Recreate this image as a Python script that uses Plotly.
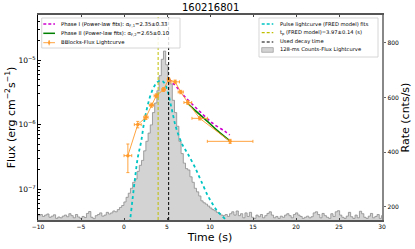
import numpy as np
import plotly.graph_objects as go

# ---------------- data ----------------
TITLE = "160216801"

# 256-ms binned counts lightcurve, starting at t=-10 s
BIN_START = -10.0
BIN_WIDTH = 0.256
rate = [
    168, 172, 165, 170, 174, 162, 166, 171, 158, 163,
    160, 166, 170, 164, 175, 168, 160, 172, 163, 158,
    165, 161, 176, 183, 162, 157, 168, 172, 178, 166,
    170, 180, 174, 178, 185,
    182, 190, 198, 205, 218,
    235, 250, 268, 290, 302, 330, 352, 370, 405, 440,
    470, 500, 545, 580, 625, 680, 740, 770, 720, 668,
    650, 590, 545, 495, 440, 395, 360, 340, 335, 310,
    290, 268, 255, 240, 222, 215, 210, 203, 196, 190,
    186, 180, 176, 170, 168, 172,
    165, 175, 182, 170, 185, 168, 175, 160, 178, 165,
    180, 162, 158, 170, 164, 172, 160, 168, 176, 182,
    170, 160, 165, 158, 166, 162, 170, 175, 168, 160,
    172, 178, 170, 165, 158, 162, 166, 160, 164, 178,
    182, 172, 160, 176, 168, 162, 158, 175, 165, 182,
    186, 170, 162, 158, 166, 180, 164, 158, 170, 160,
    184, 175, 162, 158, 166, 176, 160, 165, 172, 158, 168,
]

# BBlocks flux lightcurve
bb_t = [0.45, 1.6, 2.55, 3.2, 3.75, 4.6, 5.19, 5.95, 6.6, 7.42, 8.8, 12.34]
bb_terr = [0.45, 0.4, 0.25, 0.25, 0.25, 0.2, 0.15, 0.5, 0.3, 0.45, 0.9, 2.65]
bb_flux = [3.3e-7, 1.0e-6, 1.3e-6, 2.0e-6, 2.8e-6, 3.5e-6, 5.0e-6, 4.6e-6, 3.2e-6, 2.2e-6, 1.25e-6, 5.5e-7]
bb_ferr_hi = [1.7e-7, 1.2e-7, 1.0e-7, 1.5e-7, 2.0e-7, 2.5e-7, 3.5e-7, 3.0e-7, 2.0e-7, 1.5e-7, 8e-8, 4e-8]
bb_ferr_lo = [1.5e-7, 1.1e-7, 1.0e-7, 1.4e-7, 1.9e-7, 2.4e-7, 3.3e-7, 2.8e-7, 1.9e-7, 1.4e-7, 7e-8, 4e-8]

# Phase I power-law fit (magenta)
p1_t = [5.2, 6.4, 6.8, 8.6, 10.3, 11.7, 12.3]
p1_flux = [5.13e-6, 3.47e-6, 2.95e-6, 1.70e-6, 1.05e-6, 7.9e-7, 6.9e-7]

# Phase II power-law fit (green)
p2_t = [7.25, 8.4, 9.6, 10.9, 12.34]
p2_flux = [2.24e-6, 1.60e-6, 1.15e-6, 8.0e-7, 5.55e-7]

# FRED pulse fit (on rate axis)
fred_t = [0.55, 0.72, 1.0, 1.3, 1.6, 2.0, 2.4, 3.1, 3.7, 4.1, 4.5, 4.9, 5.5, 6.05,
          6.8, 7.4, 8.2, 9.0, 9.9, 10.9, 11.9, 12.3]
fred_rate = [120, 155, 230, 310, 380, 440, 520, 610, 650, 661, 660, 640, 565, 490,
             427, 395, 348, 292, 232, 183, 152, 140]

t_peak = 3.97
t_decay = 5.19

# ---------------- style ----------------
FONT = "DejaVu Sans"
C_ORANGE = "#ff9a2a"
C_MAG = "#d000d0"
C_GREEN = "#008000"
C_CYAN = "#00c4c4"
C_YEL = "#bfbf00"
C_HIST_FILL = "#d3d3d3"
C_HIST_LINE = "#8c8c8c"

fig = go.Figure()

# histogram (rate axis, drawn first => below)
edges = BIN_START + BIN_WIDTH * np.arange(len(rate) + 1)
fig.add_trace(go.Scatter(
    x=edges, y=list(rate) + [rate[-1]], mode="lines", line_shape="hv",
    line=dict(color=C_HIST_LINE, width=0.8), fill="tozeroy", fillcolor=C_HIST_FILL,
    yaxis="y", showlegend=False, hoverinfo="skip"))

fig.add_trace(go.Scatter(
    x=fred_t, y=fred_rate, mode="lines", line_shape="spline",
    line=dict(color=C_CYAN, width=1.8, dash="3px,3px"), yaxis="y", showlegend=False))

# flux traces on log axis (overlay, drawn above)
fig.add_trace(go.Scatter(
    x=p1_t, y=p1_flux, mode="lines", line_shape="spline",
    line=dict(color=C_MAG, width=1.6, dash="3px,2.5px"), yaxis="y2", showlegend=False))
fig.add_trace(go.Scatter(
    x=p2_t, y=p2_flux, mode="lines", line_shape="spline",
    line=dict(color=C_GREEN, width=1.6), yaxis="y2", showlegend=False))
fig.add_trace(go.Scatter(
    x=bb_t, y=bb_flux, mode="lines+markers",
    line=dict(color=C_ORANGE, width=0.9),
    marker=dict(color=C_ORANGE, size=3.5),
    error_x=dict(type="data", array=bb_terr, color=C_ORANGE, thickness=0.9, width=1.5),
    error_y=dict(type="data", array=bb_ferr_hi, arrayminus=bb_ferr_lo,
                 color=C_ORANGE, thickness=0.9, width=1.5),
    yaxis="y2", showlegend=False))

shapes = []
# vertical lines
shapes.append(dict(type="line", xref="x", yref="paper", x0=t_peak, x1=t_peak, y0=0, y1=1,
                   line=dict(color=C_YEL, width=1, dash="3px,2px")))
shapes.append(dict(type="line", xref="x", yref="paper", x0=t_decay, x1=t_decay, y0=0, y1=1,
                   line=dict(color="black", width=1, dash="3px,2px")))

# ---- manual legends (paper coords) ----
def box(x0, x1, y0, y1):
    shapes.append(dict(type="rect", xref="paper", yref="paper", x0=x0, x1=x1, y0=y0, y1=y1,
                       fillcolor="rgba(255,255,255,0.85)", line=dict(color="#cccccc", width=0.8)))

def sample(x0, x1, y, color, dash="solid", width=1.5):
    shapes.append(dict(type="line", xref="paper", yref="paper", x0=x0, x1=x1, y0=y, y1=y,
                       line=dict(color=color, width=width, dash=dash)))

annotations = []
def label(x, y, text, size=5.3):
    annotations.append(dict(xref="paper", yref="paper", x=x, y=y, text=text, showarrow=False,
                            xanchor="left", yanchor="middle",
                            font=dict(family=FONT, size=size, color="black")))

# legend 1 (upper left)
box(0.0108, 0.4128, 0.839, 0.9854)
sample(0.0154, 0.0494, 0.956, C_MAG, "3px,2px", 1.5)
label(0.062, 0.956, "Phase I (Power-law fits): α<sub>F,1</sub>=2.35±0.33")
sample(0.0154, 0.0494, 0.9107, C_GREEN, "solid", 1.5)
label(0.062, 0.9107, "Phase II (Power-law fits): α<sub>F,2</sub>=2.65±0.10")
sample(0.0154, 0.0494, 0.8649, C_ORANGE, "solid", 0.9)
shapes.append(dict(type="line", xref="paper", yref="paper", x0=0.0324, x1=0.0324,
                   y0=0.852, y1=0.878, line=dict(color=C_ORANGE, width=0.9)))
shapes.append(dict(type="circle", xref="paper", yref="paper", x0=0.0300, x1=0.0348,
                   y0=0.858, y1=0.872, fillcolor=C_ORANGE, line=dict(color=C_ORANGE, width=0.5)))
label(0.062, 0.8649, "BBlocks-Flux Lightcurve")

# legend 2 (upper right)
box(0.6424, 0.9884, 0.7951, 0.9854)
sample(0.6503, 0.684, 0.956, C_CYAN, "3px,2px", 1.5)
label(0.6968, 0.956, "Pulse lightcurve (FRED model) fits", 5.2)
sample(0.6503, 0.684, 0.9137, C_YEL, "3px,2px", 1.2)
label(0.6968, 0.9137, "t<sub>p</sub> (FRED model)=3.97±0.14 (s)", 5.2)
sample(0.6503, 0.684, 0.8683, "black", "3px,2px", 1.2)
label(0.6968, 0.8683, "Used decay time", 5.2)
shapes.append(dict(type="rect", xref="paper", yref="paper", x0=0.6503, x1=0.684,
                   y0=0.818, y1=0.841, fillcolor=C_HIST_FILL, line=dict(color=C_HIST_LINE, width=0.6)))
label(0.6968, 0.8293, "128-ms Counts-Flux Lightcurve", 5.2)

annotations.append(dict(xref="paper", yref="paper", x=0.5, y=1.0, yshift=8, text=TITLE,
                        showarrow=False, xanchor="center", yanchor="middle",
                        font=dict(family=FONT, size=10, color="black")))

tickfont = dict(family=FONT, size=6, color="black")
fig.update_layout(
    width=415, height=249,
    margin=dict(l=38, r=33, t=15, b=29, autoexpand=False),
    paper_bgcolor="white", plot_bgcolor="white",
    showlegend=False,
    font=dict(family=FONT, color="black"),
    xaxis=dict(range=[-10, 30], tickvals=[-10, -5, 0, 5, 10, 15, 20, 25, 30],
               ticks="inside", ticklen=2.5, tickcolor="#444", tickfont=tickfont,
               showline=True, linecolor="#555", linewidth=1.5, mirror="ticks",
               showgrid=False, zeroline=False,
               title=dict(text="Time (s)", font=dict(family=FONT, size=11), standoff=4)),
    yaxis=dict(range=[152, 902], side="right", tickvals=[200, 400, 600, 800],
               ticks="outside", ticklen=2.5, tickcolor="#666", tickfont=tickfont,
               showline=True, linecolor="#888", linewidth=1.5,
               showgrid=False, zeroline=False,
               title=dict(text="Rate (cnts/s)", font=dict(family=FONT, size=11), standoff=2)),
    yaxis2=dict(type="log", range=[-7.48, -4.30], overlaying="y", side="left",
                dtick=1, exponentformat="power", showexponent="all",
                ticks="inside", ticklen=3, tickcolor="black", tickfont=tickfont,
                minor=dict(ticks="inside", ticklen=1.5, tickcolor="black", dtick="D1", showgrid=False),
                showline=True, linecolor="black", linewidth=1.2,
                showgrid=False, zeroline=False,
                title=dict(text="Flux (erg cm<sup>−2</sup>s<sup>−1</sup>)",
                           font=dict(family=FONT, size=11), standoff=0)),
    shapes=shapes,
    annotations=annotations,
)

fig.write_html("out.html", config={"displayModeBar": False},
               post_script="document.body.style.margin='0';document.body.style.overflow='hidden';")
